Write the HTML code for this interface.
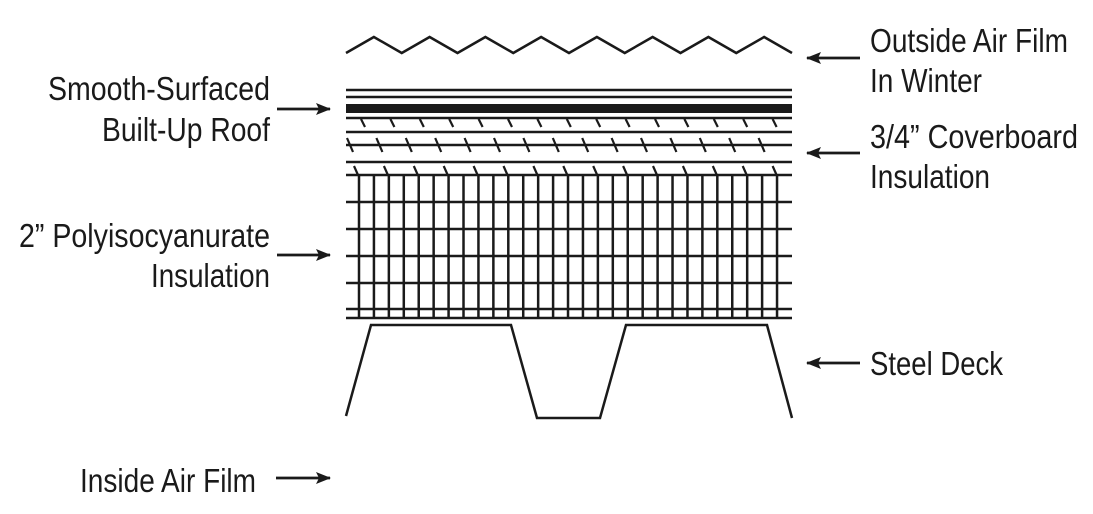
<!DOCTYPE html>
<html><head><meta charset="utf-8"><style>
html,body{margin:0;padding:0;background:#fff;}
svg{display:block;}
text{font-family:"Liberation Sans Narrow","Liberation Sans",sans-serif;font-size:33px;fill:#1a1a1a;}
</style></head><body>
<svg id="s" width="1093" height="514" viewBox="0 0 1093 514" xmlns="http://www.w3.org/2000/svg">
<defs>
<marker id="b" markerWidth="15" markerHeight="12" refX="14" refY="6" orient="auto" markerUnits="userSpaceOnUse"><path d="M0,0 L15,6 L0,12 L3,6 z" fill="#1a1a1a"/></marker></defs>
<g id="g" stroke="#1a1a1a" fill="none" stroke-width="2.5"></g>
<rect x="346" y="104" width="446" height="9" fill="#1a1a1a"/>
<polyline points="346,416 371,325 511,325 537,418 600,418 626,325 767,325 792,418" fill="none" stroke="#1a1a1a" stroke-width="2.5"/>
<g stroke="#1a1a1a" stroke-width="2.8">
<line x1="277" y1="109" x2="330" y2="109" marker-end="url(#b)"/>
<line x1="277" y1="255" x2="330" y2="255" marker-end="url(#b)"/>
<line x1="276" y1="478" x2="330" y2="478" marker-end="url(#b)"/>
<line x1="860" y1="58" x2="807" y2="58" marker-end="url(#b)"/>
<line x1="860" y1="153" x2="807" y2="153" marker-end="url(#b)"/>
<line x1="860" y1="363" x2="807" y2="363" marker-end="url(#b)"/>
</g>
<text x="870" y="52" textLength="198" lengthAdjust="spacingAndGlyphs">Outside Air Film</text>
<text x="870" y="92" textLength="112" lengthAdjust="spacingAndGlyphs">In Winter</text>
<text x="870" y="148" textLength="208" lengthAdjust="spacingAndGlyphs">3/4” Coverboard</text>
<text x="870" y="188" textLength="120" lengthAdjust="spacingAndGlyphs">Insulation</text>
<text x="870" y="375" textLength="133" lengthAdjust="spacingAndGlyphs">Steel Deck</text>
<text x="48" y="100" textLength="222" lengthAdjust="spacingAndGlyphs">Smooth-Surfaced</text>
<text x="102" y="141" textLength="168" lengthAdjust="spacingAndGlyphs">Built-Up Roof</text>
<text x="19" y="247" textLength="251" lengthAdjust="spacingAndGlyphs">2” Polyisocyanurate</text>
<text x="151" y="287" textLength="119" lengthAdjust="spacingAndGlyphs">Insulation</text>
<text x="80" y="492" textLength="176" lengthAdjust="spacingAndGlyphs">Inside Air Film</text>
</svg>
<script>
var g=document.getElementById('g'),ns='http://www.w3.org/2000/svg';
function L(x1,y1,x2,y2,w){var l=document.createElementNS(ns,'line');l.setAttribute('x1',x1);l.setAttribute('y1',y1);l.setAttribute('x2',x2);l.setAttribute('y2',y2);if(w)l.setAttribute('stroke-width',w);g.appendChild(l);}
var p=[];for(var i=0;i<=16;i++){p.push((346+i*27.875)+','+(i%2?37:53));}
var pl=document.createElementNS(ns,'polyline');pl.setAttribute('points',p.join(' '));g.appendChild(pl);
[90,97,118,132,145,162,175,202,229,256,283,309,318].forEach(function(y){L(346,y,792,y);});
for(var i=0;i<15;i++){var x=363+i*29.4;L(x-2,119,x+2,127,2.2);}
for(var i=0;i<15;i++){var x=350+i*29.4;L(x-3,138,x+3,152,2.2);}
for(var i=0;i<15;i++){var x=356+i*29.9;L(x-2,166,x+2,175,2.2);}
for(var i=0;i<29;i++){var x=359+i*14.93;L(x,175,x,318);}
</script>
</body></html>
